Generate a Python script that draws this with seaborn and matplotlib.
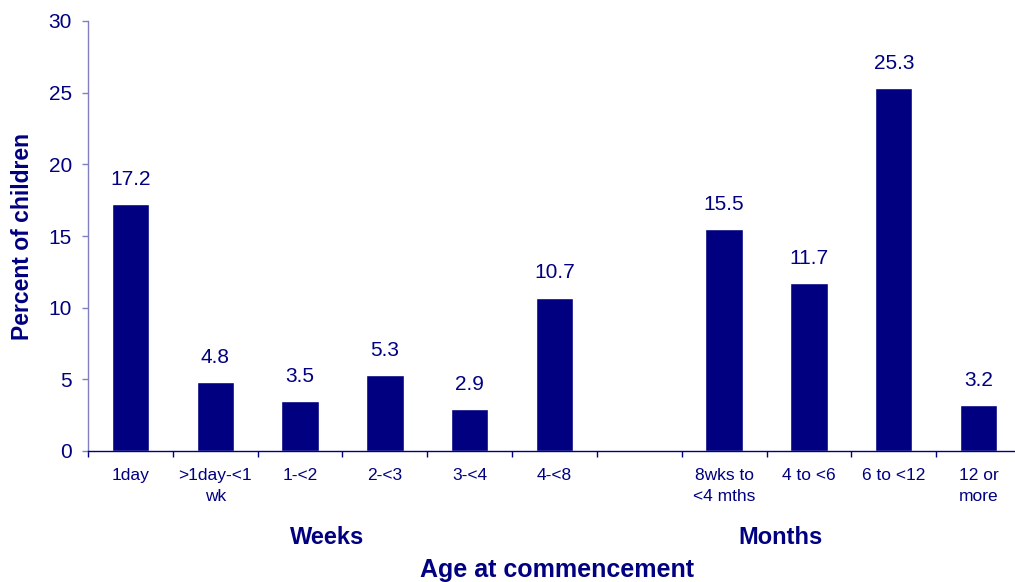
import matplotlib
matplotlib.use("Agg")
import matplotlib.pyplot as plt
import seaborn as sns
import numpy as np
import pandas as pd

categories = ["1day", ">1day-<1\nwk", "1-<2", "2-<3", "3-<4", "4-<8", "",
              "8wks to\n<4 mths", "4 to <6", "6 to <12", "12 or\nmore"]
values = [17.2, 4.8, 3.5, 5.3, 2.9, 10.7, None, 15.5, 11.7, 25.3, 3.2]
yticks = [0, 5, 10, 15, 20, 25, 30]

navy = "#000080"
sns.set_theme(style="white")
plt.rcParams['font.family'] = ['Liberation Sans', 'DejaVu Sans']

df = pd.DataFrame({"cat": categories, "val": values}).dropna()

fig = plt.figure(figsize=(10.15, 5.82), dpi=100)
W, H = 1015, 582
left, right, top, bottom = 88, 1021, 21, 451
ax = fig.add_axes([left / W, 1 - bottom / H, (right - left) / W, (bottom - top) / H])

sns.barplot(data=df, x="cat", y="val", order=categories, color=navy,
            saturation=1, width=0.44, ax=ax)

for c in ax.containers:
    ax.bar_label(c, fmt="%.1f", padding=11, fontsize=15, color=navy)

ax.set_ylim(0, 30)
ax.set_xlim(-0.5, len(categories) - 0.5)
ax.set_yticks(yticks)
ax.set_yticklabels([str(t) for t in yticks], fontsize=15, color=navy)

n = len(categories)
ax.set_xticks(np.arange(n + 1) - 0.5)
ax.set_xticklabels([""] * (n + 1))
ax.set_xticks(np.arange(n), minor=True)
ax.set_xticklabels(categories, minor=True, fontsize=12.5, color=navy, linespacing=1.55)
ax.tick_params(axis="x", which="major", length=4, width=1, color=navy, direction="out", bottom=True)
ax.tick_params(axis="x", which="minor", length=0, pad=12)
ax.tick_params(axis="y", length=4.5, width=1, color="#8080c0", direction="out", left=True, pad=7)

for s in ["top", "right"]:
    ax.spines[s].set_visible(False)
ax.spines["left"].set_color("#8080c0")
ax.spines["bottom"].set_color(navy)
ax.spines["left"].set_linewidth(1)
ax.spines["bottom"].set_linewidth(1)
ax.grid(False)
ax.set_xlabel("")
ax.set_ylabel("")

fig.text(23 / W, 1 - 236 / H, "Percent of children", rotation=90, ha="center", va="center",
         fontsize=16.5, fontweight="bold", color=navy)
fig.text(327 / W, 1 - 537 / H, "Weeks", ha="center", va="center",
         fontsize=17, fontweight="bold", color=navy)
fig.text(780 / W, 1 - 537 / H, "Months", ha="center", va="center",
         fontsize=17, fontweight="bold", color=navy)
fig.text(557 / W, 1 - 570 / H, "Age at commencement", ha="center", va="center",
         fontsize=18, fontweight="bold", color=navy)

fig.savefig("out.png", dpi=100)
